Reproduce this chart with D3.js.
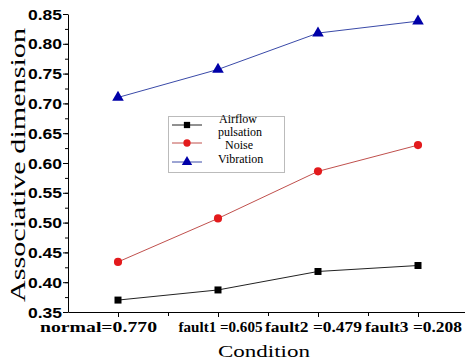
<!DOCTYPE html>
<html>
<head>
<meta charset="utf-8">
<script src="https://cdn.jsdelivr.net/npm/d3@7"></script>
<style>
  body { margin: 0; background: #fff; }
  text { fill: #000; }
  .serif { font-family: "Liberation Serif", "DejaVu Serif", serif; }
  .sans { font-family: "Liberation Sans", Arial, sans-serif; }
</style>
</head>
<body>
<div id="chart"></div>
<script>
// chart data
var conditions = ["normal=0.770", "fault1 =0.605", "fault2 =0.479", "fault3 =0.208"];
var airflow = [0.370, 0.387, 0.418, 0.428];
var noise = [0.434, 0.507, 0.586, 0.630];
var vibration = [0.710, 0.757, 0.818, 0.838];
var yTicks = [0.35, 0.40, 0.45, 0.50, 0.55, 0.60, 0.65, 0.70, 0.75, 0.80, 0.85];

var width = 465, height = 363;

var svg = d3.select("#chart").append("svg")
    .attr("width", width)
    .attr("height", height);

var x = d3.scaleLinear().domain([-0.5, 3.47]).range([68, 465]);
var y = d3.scaleLinear().domain([0.35, 0.85]).range([312, 14]);

// y axis, minor ticks first
svg.append("g")
    .attr("transform", "translate(68,0)")
    .call(d3.axisLeft(y).tickValues(d3.range(0.35, 0.851, 0.025)).tickSize(3).tickFormat(""))
    .call(function(g) { g.select(".domain").remove(); });

svg.append("g")
    .attr("transform", "translate(68,0)")
    .call(d3.axisLeft(y).tickValues(yTicks).tickSize(5).tickSizeOuter(0).tickFormat(d3.format(".2f")))
    .call(function(g) {
      g.attr("font-family", null);
      g.selectAll("text").attr("class", "sans").attr("font-weight", "bold")
        .attr("font-size", 14).attr("x", -6).attr("dy", "0.36em")
        .attr("textLength", 34).attr("lengthAdjust", "spacingAndGlyphs");
    });

// x axis
svg.append("g")
    .attr("transform", "translate(0,312)")
    .call(d3.axisBottom(x).tickValues([0.5, 1.5, 2.5]).tickSize(4).tickFormat(""))
    .call(function(g) { g.select(".domain").remove(); });

// label shifts/widths so the stretched labels sit like the reference
var labelShift = [-20, 2, -5, -5];
var labelWidth = [117, 84, 97, 97];

svg.append("g")
    .attr("transform", "translate(0,312)")
    .call(d3.axisBottom(x).tickValues([0, 1, 2, 3]).tickSize(5).tickSizeOuter(0)
      .tickFormat(function(d) { return conditions[d]; }))
    .call(function(g) {
      g.attr("font-family", null);
      g.selectAll("text").attr("class", "serif").attr("font-weight", "bold")
        .attr("font-size", 14).attr("y", 10)
        .attr("x", function(d) { return labelShift[d]; })
        .attr("textLength", function(d) { return labelWidth[d]; })
        .attr("lengthAdjust", "spacingAndGlyphs");
    });

// axis titles
svg.append("text")
    .attr("class", "serif")
    .attr("transform", "translate(25,165) rotate(-90)")
    .attr("text-anchor", "middle")
    .attr("font-size", 22)
    .attr("textLength", 274).attr("lengthAdjust", "spacingAndGlyphs")
    .text("Associative dimension");

svg.append("text")
    .attr("class", "serif")
    .attr("x", 264).attr("y", 357)
    .attr("text-anchor", "middle")
    .attr("font-size", 16)
    .attr("textLength", 92).attr("lengthAdjust", "spacingAndGlyphs")
    .text("Condition");

var series = [
  {name: "Airflow", values: airflow, line: "#222", fill: "#000", shape: d3.symbolSquare, size: 49},
  {name: "Noise", values: noise, line: "#c0504d", fill: "#e31a1c", shape: d3.symbolCircle, size: 52},
  {name: "Vibration", values: vibration, line: "#3a4aa8", fill: "#0000a8", shape: d3.symbolTriangle, size: 58}
];

var line = d3.line()
    .x(function(d, i) { return x(i); })
    .y(function(d) { return y(d); });

series.forEach(function(s) {
  svg.append("path")
      .attr("d", line(s.values))
      .attr("fill", "none")
      .attr("stroke", s.line)
      .attr("stroke-width", 1);

  svg.selectAll(null)
      .data(s.values).enter().append("path")
      .attr("transform", function(d, i) { return "translate(" + x(i) + "," + y(d) + ")"; })
      .attr("d", d3.symbol().type(s.shape).size(s.size))
      .attr("fill", s.fill);
});

// legend
var lg = svg.append("g");
lg.append("rect")
    .attr("x", 168.5).attr("y", 116.5).attr("width", 116).attr("height", 56)
    .attr("fill", "#fff").attr("stroke", "#bbb").attr("stroke-width", 1);

var legendY = [125, 143, 162];
series.forEach(function(s, i) {
  lg.append("line")
      .attr("x1", 172).attr("x2", 202).attr("y1", legendY[i]).attr("y2", legendY[i])
      .attr("stroke", s.line).attr("stroke-width", 1);
  lg.append("path")
      .attr("transform", "translate(187," + legendY[i] + ")")
      .attr("d", d3.symbol().type(s.shape).size(s.size * 0.8))
      .attr("fill", s.fill);
});

var legendText = ["Airflow", "pulsation", "Noise", "Vibration"];
var legendTextPos = [[219, 122.5], [218, 135.5], [225, 148.5], [218, 163]];
legendText.forEach(function(t, i) {
  lg.append("text")
      .attr("class", "serif")
      .attr("x", legendTextPos[i][0]).attr("y", legendTextPos[i][1])
      .attr("font-size", 12)
      .text(t);
});
</script>
</body>
</html>
